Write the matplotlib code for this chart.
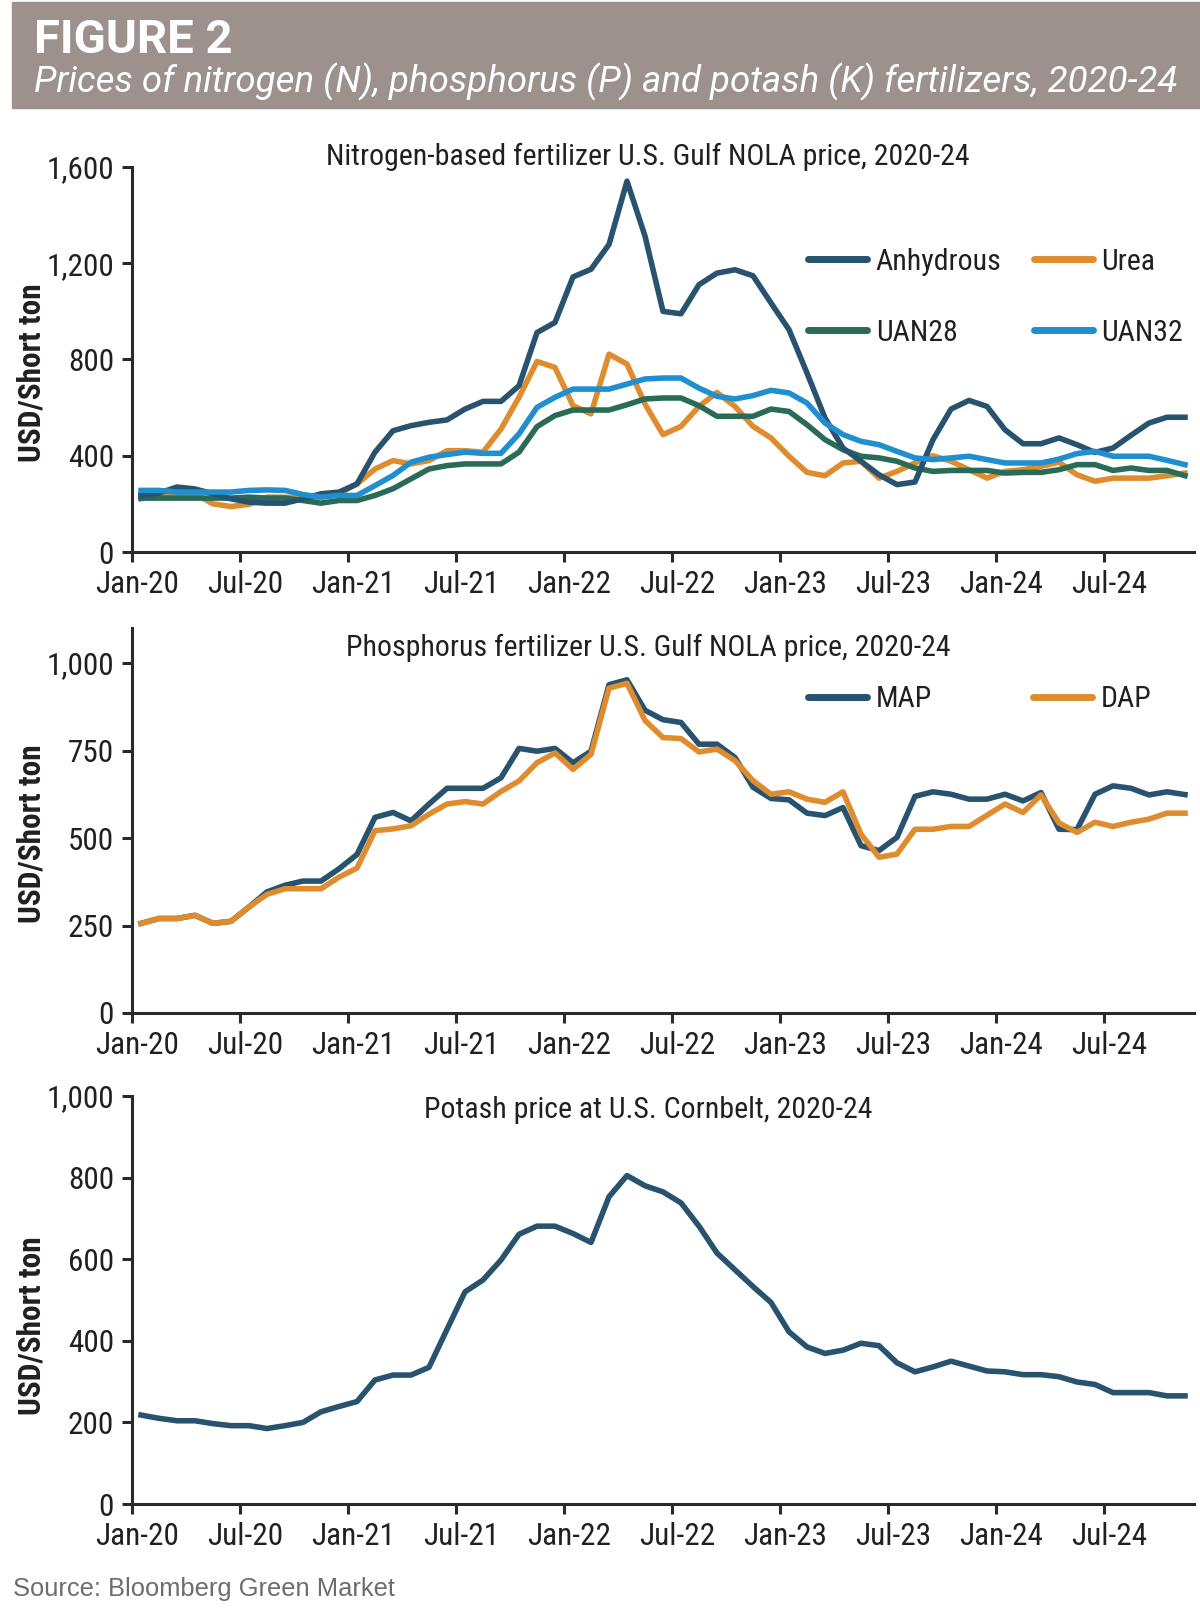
import matplotlib
matplotlib.use("Agg")
import matplotlib.pyplot as plt
from matplotlib import font_manager as fm
from matplotlib.patches import Rectangle
from matplotlib.transforms import ScaledTranslation
import numpy as np

# fonts: prefer a narrow sans for the chart text
names = {f.name for f in fm.fontManager.ttflist}
def pick(*cands):
    for c in cands:
        if c in names:
            return c
    return 'DejaVu Sans'
COND = pick('Liberation Sans Narrow', 'Roboto Condensed', 'DejaVu Sans')
PLAIN = pick('Liberation Sans', 'DejaVu Sans')
WIDE = pick('Roboto', 'Liberation Sans', 'DejaVu Sans')
plt.rcParams['font.family'] = [COND, 'DejaVu Sans']

# Data: monthly prices, Jan-2020 .. Nov-2024 (USD/short ton)
tick_labels = ['Jan-20', 'Jul-20', 'Jan-21', 'Jul-21', 'Jan-22',
               'Jul-22', 'Jan-23', 'Jul-23', 'Jan-24', 'Jul-24']

anhydrous = [235, 245, 270, 262, 242, 221, 207, 203, 203, 221,
             242, 249, 283, 415, 504, 525, 539, 549, 594, 626,
             626, 691, 912, 954, 1143, 1175, 1278, 1541, 1313, 1000,
             990, 1111, 1159, 1173, 1148, 1035, 924, 744, 557, 432,
             377, 321, 280, 291, 467, 594, 630, 605, 508, 450,
             450, 474, 446, 414, 432, 485, 536, 560, 560]
urea = [221, 242, 242, 242, 200, 189, 198, 228, 228, 225,
        228, 242, 283, 345, 380, 366, 380, 421, 421, 415,
        511, 643, 792, 767, 608, 574, 822, 781, 615, 488,
        522, 605, 663, 605, 522, 474, 398, 331, 317, 370,
        377, 307, 335, 370, 400, 377, 342, 307, 335, 342,
        356, 373, 321, 294, 307, 307, 307, 317, 328]
uan28 = [224, 224, 224, 224, 224, 224, 228, 224, 224, 214,
         203, 214, 214, 235, 263, 304, 345, 359, 366, 366,
         366, 415, 521, 567, 590, 590, 590, 612, 636, 640,
         640, 608, 564, 564, 564, 594, 584, 529, 467, 425,
         398, 391, 377, 349, 335, 339, 339, 339, 328, 331,
         331, 342, 363, 363, 339, 349, 339, 339, 317]
uan32 = [256, 256, 249, 249, 249, 249, 256, 258, 256, 239,
         228, 235, 235, 276, 318, 373, 394, 405, 415, 410,
         410, 491, 601, 643, 677, 677, 677, 698, 719, 723,
         723, 681, 647, 636, 650, 672, 661, 619, 536, 488,
         460, 446, 418, 391, 384, 391, 398, 384, 370, 370,
         370, 386, 409, 418, 398, 398, 398, 381, 363]

map_p = [256, 270, 270, 279, 256, 262, 303, 346, 365, 377,
         377, 412, 453, 559, 573, 549, 597, 642, 642, 642,
         672, 756, 748, 756, 715, 748, 938, 952, 865, 838,
         830, 768, 768, 730, 645, 613, 609, 571, 564, 587,
         478, 464, 502, 619, 632, 625, 611, 611, 625, 606,
         630, 525, 524, 625, 649, 642, 623, 632, 624]
dap = [256, 270, 270, 279, 256, 262, 303, 339, 355, 355,
       355, 388, 414, 521, 526, 535, 568, 597, 604, 597,
       633, 663, 715, 743, 696, 739, 928, 942, 836, 787,
       784, 746, 754, 721, 664, 625, 632, 611, 602, 632,
       511, 445, 454, 525, 525, 533, 533, 565, 597, 573,
       623, 543, 516, 545, 533, 545, 554, 571, 571]

potash = [218, 210, 204, 204, 197, 192, 192, 185, 192, 200,
          226, 239, 251, 304, 316, 316, 335, 428, 520, 549,
          598, 661, 681, 681, 663, 641, 753, 805, 780, 765,
          738, 681, 615, 574, 533, 494, 422, 385, 369, 377,
          394, 388, 346, 324, 336, 350, 338, 326, 324, 317,
          317, 312, 299, 293, 273, 273, 273, 265, 265]

NAVY = '#27536f'
ORANGE = '#df8c2f'
GREEN = '#2a6b58'
LBLUE = '#1f8fd0'
AXC = '#2a2a2a'
TXT = '#231f20'

x = np.arange(len(anhydrous)) + 0.5   # points sit mid-month
W, H = 1200, 1618
fig = plt.figure(figsize=(W / 100, H / 100), dpi=100)

# header band
fig.patches.append(Rectangle((12 / W, 1 - 108 / H), 1 - 12 / W, 106 / H,
                             transform=fig.transFigure, color='#9c918d', zorder=0))
fig.text(34 / W, 1 - 53 / H, 'FIGURE 2', family=WIDE, color='white', fontsize=34,
         fontweight='bold', va='baseline', ha='left')
fig.text(34 / W, 1 - 92 / H,
         'Prices of nitrogen (N), phosphorus (P) and potash (K) fertilizers, 2020-24',
         family=WIDE, color='white', fontsize=26.4, style='italic',
         va='baseline', ha='left')

# labels sit a little right of their ticks in the original
shift = ScaledTranslation(5 / 100, 0, fig.dpi_scale_trans)


def make_axes(y_top, y_bot, ymax, yticks):
    ax = fig.add_axes([132 / W, 1 - y_bot / H, (1194 - 132) / W, (y_bot - y_top) / H])
    ax.set_xlim(0, 59)
    ax.set_ylim(0, ymax)
    for s in ['top', 'right']:
        ax.spines[s].set_visible(False)
    for s in ['left', 'bottom']:
        ax.spines[s].set_linewidth(2.2)
        ax.spines[s].set_color(AXC)
    ax.set_yticks(yticks)
    ax.set_yticklabels(['{:,}'.format(v) for v in yticks])
    ax.set_xticks(np.arange(0, 55, 6))
    ax.set_xticklabels(tick_labels)
    ax.tick_params(axis='both', width=2.2, length=7, color=AXC,
                   labelsize=22.5, labelcolor=TXT, pad=6)
    for lab in ax.get_xticklabels():
        lab.set_transform(lab.get_transform() + shift)
    return ax


def ylab(yc):
    fig.text(32 / W, 1 - yc / H, 'USD/Short ton', rotation=90, fontsize=22.5,
             fontweight='bold', color=TXT, ha='center', va='center')


def ptitle(yc, txt):
    fig.text(648 / W, 1 - yc / H, txt, fontsize=21.5, color=TXT,
             ha='center', va='center')


lw = 4.0
leg_kw = dict(ncol=2, loc='upper left', frameon=False, fontsize=21.5,
              handlelength=1.95, handletextpad=0.3, borderpad=0, borderaxespad=0)

# Nitrogen
ax1 = make_axes(167, 552, 1600, [0, 400, 800, 1200, 1600])
ax1.plot(x, urea, color=ORANGE, lw=lw, label='Urea', zorder=2)
ax1.plot(x, uan28, color=GREEN, lw=lw, label='UAN28', zorder=3)
ax1.plot(x, anhydrous, color=NAVY, lw=lw, label='Anhydrous', zorder=4)
ax1.plot(x, uan32, color=LBLUE, lw=lw, label='UAN32', zorder=5)
h, l = ax1.get_legend_handles_labels()
order = [l.index(k) for k in ['Anhydrous', 'UAN28', 'Urea', 'UAN32']]
leg1 = ax1.legend([h[i] for i in order], [l[i] for i in order],
                  bbox_to_anchor=(0.637, 0.790), columnspacing=1.1,
                  labelspacing=1.44, **leg_kw)
ptitle(157, 'Nitrogen-based fertilizer U.S. Gulf NOLA price, 2020-24')
ylab(373)

# Phosphorus
ax2 = make_axes(628, 1013, 1100, [0, 250, 500, 750, 1000])
ax2.plot(x, map_p, color=NAVY, lw=lw, label='MAP', zorder=3)
ax2.plot(x, dap, color=ORANGE, lw=lw, label='DAP', zorder=4)
leg2 = ax2.legend(bbox_to_anchor=(0.637, 0.851), columnspacing=3.4, **leg_kw)
ptitle(648, 'Phosphorus fertilizer U.S. Gulf NOLA price, 2020-24')
ylab(834)

# Potash
ax3 = make_axes(1096, 1504, 1000, [0, 200, 400, 600, 800, 1000])
ax3.plot(x, potash, color=NAVY, lw=lw, zorder=3)
ptitle(1110, 'Potash price at U.S. Cornbelt, 2020-24')
ylab(1326)

for leg in (leg1, leg2):
    for ln in leg.get_lines():
        ln.set_linewidth(5)
        ln.set_solid_capstyle('round')
    for t in leg.get_texts():
        t.set_color(TXT)

fig.text(13 / W, 1 - 1589 / H, 'Source: Bloomberg Green Market', family=PLAIN,
         fontsize=18.4, color='#6d6d6d', ha='left', va='center')

fig.savefig('out.png', dpi=100)
